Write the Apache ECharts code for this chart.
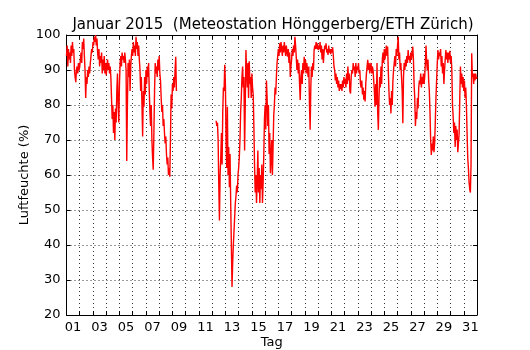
<!DOCTYPE html>
<html>
<head>
<meta charset="utf-8">
<script src="https://cdn.jsdelivr.net/npm/echarts@6/dist/echarts.min.js"></script>
<style>
  html, body { margin: 0; padding: 0; background: #fff; }
  #chart { width: 530px; height: 350px; }
</style>
</head>
<body>
<div id="chart"></div>
<script>
const STEP = 0.05;
const tagLabels = ['01','02','03','04','05','06','07','08','09','10','11','12','13','14','15','16',
  '17','18','19','20','21','22','23','24','25','26','27','28','29','30','31'];
const yTicks = [20, 30, 40, 50, 60, 70, 80, 90, 100];

// Tag 0.00 bis 8.25
const start1 = 0;
const feuchte1 = [
  94, 97, 91, 96, 93, 95, 92, 97, 94, 98, 95, 96, 90, 88, 86.5, 90, 91, 89, 92, 90,
  91, 93, 95, 92, 98, 96, 99, 94, 90, 82, 88, 86, 90, 88, 91, 89, 92, 94, 96, 95,
  98, 97, 99.5, 98, 100, 97, 99, 95, 93, 96, 91, 94, 92, 95, 89, 93, 90, 94, 89, 92,
  88.5, 91, 93, 90, 92, 89, 91, 88, 82, 76, 80, 72, 78, 70, 79, 75, 84, 89, 80, 75,
  86, 92, 94, 91, 95, 93, 94, 92, 95, 93, 90, 64, 80, 92, 88, 93, 84, 91, 94, 96,
  94, 98, 95, 97, 94, 99.5, 96, 98, 94, 97, 93, 90, 84, 88, 80, 71, 84, 79.5, 88, 83,
  90, 86, 91, 88, 92, 84, 78, 74, 80, 70, 65, 61.5, 72, 84, 92, 89, 91, 88, 93, 90,
  94, 89, 87, 82, 78, 80, 74, 76, 72, 69, 71, 66, 63, 65, 60, 62, 59.5, 70, 83, 79,
  86, 84, 88, 85, 90, 93.8, 84
];

// Tag 11.30 bis 31.00
const start2 = 11.3;
const feuchte2 = [
  75.5, 74, 75, 70, 57, 47, 60, 65, 72, 63, 78, 85, 84, 91.5, 86, 70, 62, 79.5, 60, 68,
  56.5, 66, 52, 40, 28, 35, 40, 44, 48, 52, 54, 57, 55, 60, 62, 65, 70, 78, 82, 88,
  91, 85, 88, 67, 80, 95.7, 90, 85, 92, 82, 92.5, 86, 88, 82, 89, 85, 83, 74, 63, 55,
  60, 52, 58, 67, 55, 62, 52, 60, 56, 63, 52, 58, 66, 76, 80, 73, 87, 82, 74, 80,
  66, 72, 60.5, 65, 70, 60, 68, 77, 80, 85, 83, 88, 92, 94,
  96, 94, 97.6, 95, 98, 96, 94, 97, 95, 98, 96, 94, 97, 95, 93.8, 96, 92, 95, 88, 91,
  93, 96, 94, 97, 95, 99.5, 97, 93.8, 90, 93, 89, 92, 86, 81.4, 88, 90, 86, 92, 89, 93.8,
  90, 93, 89, 92, 90, 88, 91, 80, 72.9, 85, 91, 88, 92, 90, 95.7, 97, 96, 98, 96, 97.6,
  95.7, 97, 96, 98, 95, 97, 93, 96, 92, 95, 97, 96, 97.6, 95, 96, 94.3, 97, 95, 96, 94.5,
  96, 95, 96.5, 94, 91, 90, 87, 89, 86, 88, 85, 87, 84, 86, 84.5, 86, 84, 87, 85, 88,
  86, 87.5, 85, 89, 86, 91, 87, 89, 84, 83.3, 88, 90, 89, 92, 90, 91, 88, 92, 89, 91,
  90, 92, 89, 90, 86, 85, 87, 83, 85, 81.5, 84, 81, 86, 89, 91, 92.9, 90, 92, 89, 91,
  92, 89, 91, 90, 89.5, 84, 79.5,
  86, 80, 92, 78, 72.9, 82, 88, 85, 91, 86, 93, 95, 92, 96, 93, 95, 97, 94, 96.7, 90,
  84, 80, 82, 77.6, 84, 80, 87, 90, 92, 94, 91, 96, 94, 97, 99.5, 93, 95, 90, 92, 88,
  84, 74.8, 88, 92, 90, 93, 91, 94, 92, 95.7, 93, 94, 92, 95, 93, 95, 96.7, 93, 86, 82,
  74, 78, 76, 82, 79, 85, 87, 86, 89, 85, 88, 86, 89, 86, 88, 92, 97, 92, 90, 93,
  87, 84, 78, 70, 65.7, 69, 67, 71, 66.5, 69, 75, 82, 87, 92, 95.7, 93, 95, 94, 96, 91,
  94, 89, 92, 86, 90, 93, 95.7, 93, 95, 92, 95, 93, 95.5, 92, 94, 90, 80, 76.7, 72, 75,
  68, 74, 70, 73, 66.5, 66, 72, 82, 91, 86, 89, 85, 88, 84, 87, 82, 85, 80, 72, 65,
  62, 58, 56, 55, 63, 94.8, 88, 89, 86, 89, 87, 89, 87.5, 88
];

function toPoints(start, values) {
  return values.map((v, i) => [+(start + i * STEP).toFixed(2), v]);
}

const lineData = toPoints(start1, feuchte1)
  .concat([[8.3, null]])
  .concat(toPoints(start2, feuchte2));

const chart = echarts.init(document.getElementById('chart'), null, { renderer: 'canvas' });

const font = 'DejaVu Sans';
const frame = { show: true, onZero: false, lineStyle: { color: '#000', width: 1 } };
const tick = { show: true, inside: true, length: 4, lineStyle: { color: '#000', width: 1 } };
const grid = { show: true, lineStyle: { color: '#000', width: 0.8, type: [1, 3] } };

const option = {
  animation: false,
  backgroundColor: '#fff',
  textStyle: { fontFamily: font },
  title: {
    text: 'Januar 2015  (Meteostation Hönggerberg/ETH Zürich)',
    left: 268,
    textAlign: 'center',
    top: 13,
    textStyle: { fontFamily: font, fontSize: 15, fontWeight: 'normal', color: '#000' }
  },
  grid: { left: 66.5, right: 53, top: 35, bottom: 35, outerBoundsMode: 'none', containLabel: false },
  xAxis: [{
    type: 'value', min: 0, max: 31, interval: 1, position: 'bottom',
    axisLine: frame, axisTick: tick, axisLabel: { show: false }, splitLine: grid
  }, {
    type: 'category', data: tagLabels, position: 'bottom', boundaryGap: true,
    axisLine: { show: false }, axisTick: { show: false }, splitLine: { show: false },
    axisLabel: { interval: 1, color: '#000', fontFamily: font, fontSize: 13, margin: 6 },
    name: 'Tag', nameLocation: 'middle', nameGap: 21, nameMoveOverlap: false,
    nameTextStyle: { color: '#000', fontFamily: font, fontSize: 13 }
  }, {
    type: 'value', min: 0, max: 31, interval: 1, position: 'top',
    axisLine: frame, axisTick: tick, axisLabel: { show: false }, splitLine: { show: false }
  }],
  yAxis: [{
    type: 'value', min: yTicks[0], max: yTicks[yTicks.length - 1], interval: 10, position: 'left',
    axisLine: frame, axisTick: tick, splitLine: grid,
    axisLabel: { color: '#000', fontFamily: font, fontSize: 13, margin: 6 },
    name: 'Luftfeuchte (%)', nameLocation: 'middle', nameGap: 35, nameMoveOverlap: false,
    nameTextStyle: { color: '#000', fontFamily: font, fontSize: 13 }
  }, {
    type: 'value', min: yTicks[0], max: yTicks[yTicks.length - 1], interval: 10, position: 'right',
    axisLine: frame, axisTick: tick, axisLabel: { show: false }, splitLine: { show: false }
  }],
  series: [{
    name: 'Luftfeuchte',
    type: 'line',
    xAxisIndex: 0,
    yAxisIndex: 0,
    data: lineData,
    showSymbol: false,
    symbol: 'none',
    connectNulls: false,
    clip: true,
    lineStyle: { color: '#ff0000', width: 1.4 }
  }]
};

chart.setOption(option);
</script>
</body>
</html>
